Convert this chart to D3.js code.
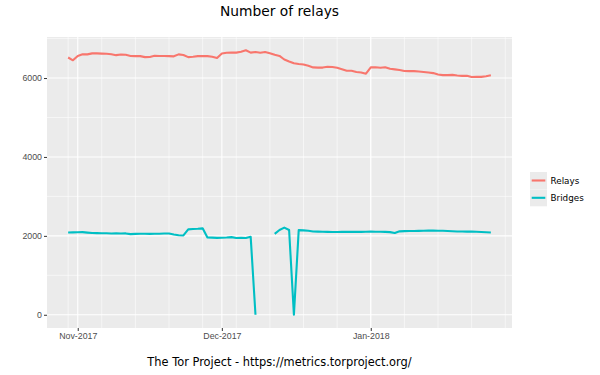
<!DOCTYPE html>
<html>
<head>
<meta charset="utf-8">
<script src="https://cdn.jsdelivr.net/npm/d3@7"></script>
<style>
  body { margin: 0; background: #fff; }
  svg { font-family: "DejaVu Sans", sans-serif; }
</style>
</head>
<body>
<div id="chart"></div>
<script>
// Daily values, 2017-10-30 .. 2018-01-26
const startDate = "2017-10-30";
const relays = [
  6520, 6450, 6560, 6600, 6600, 6625, 6625, 6620, 6615, 6605,
  6580, 6595, 6590, 6560, 6555, 6555, 6530, 6535, 6565, 6560,
  6560, 6555, 6550, 6600, 6585, 6530, 6540, 6555, 6560, 6555,
  6540, 6510, 6620, 6640, 6645, 6645, 6665, 6705, 6645, 6660,
  6640, 6660, 6630, 6590, 6560, 6470, 6420, 6375, 6355, 6345,
  6310, 6270, 6265, 6265, 6285, 6280, 6260, 6225, 6185, 6185,
  6155, 6140, 6110, 6270, 6275, 6260, 6275, 6235, 6220, 6205,
  6180, 6175, 6175, 6165, 6155, 6140, 6125, 6090, 6075, 6075,
  6080, 6065, 6055, 6060, 6025, 6030, 6030, 6045, 6070
];
const bridges = [
  2085, 2088, 2092, 2094, 2082, 2072, 2070, 2068, 2066, 2060,
  2062, 2060, 2062, 2045, 2050, 2055, 2052, 2050, 2052, 2055,
  2058, 2060, 2035, 2015, 2010, 2165, 2175, 2180, 2190, 1960,
  1955, 1950, 1952, 1958, 1968, 1945, 1948, 1945, 1975, 0,
  null, null, null, 2050, 2150, 2210, 2150, 0, 2145, 2140,
  2130, 2112, 2108, 2105, 2102, 2098, 2096, 2100, 2102, 2100,
  2104, 2102, 2106, 2108, 2106, 2104, 2100, 2095, 2072, 2115,
  2120, 2122, 2124, 2126, 2128, 2132, 2134, 2130, 2128, 2125,
  2118, 2112, 2110, 2108, 2112, 2105, 2098, 2092, 2085
];
const seriesNames = ["Relays", "Bridges"];
const seriesColors = ["#F8766D", "#00BFC4"];
const yTicks = [0, 2000, 4000, 6000];
const yMinor = [1000, 3000, 5000, 7000];
const monthTicks = ["2017-11-01", "2017-12-01", "2018-01-01"];

const width = 600, height = 375;
const panel = { left: 47, right: 512, top: 37, bottom: 328 };

const parse = d3.utcParse("%Y-%m-%d");
const t0 = parse(startDate);
const dates = relays.map((_, i) => d3.utcDay.offset(t0, i));

const svg = d3.select("#chart").append("svg")
  .attr("width", width)
  .attr("height", height);

// Scales with ggplot-like 5% expansion
const xExt = d3.extent(dates);
const xPad = (xExt[1] - xExt[0]) * 0.05;
const x = d3.scaleUtc()
  .domain([new Date(+xExt[0] - xPad), new Date(+xExt[1] + xPad)])
  .range([panel.left, panel.right]);

const yMax = d3.max(relays);
const yPad = yMax * 0.05;
const y = d3.scaleLinear()
  .domain([-yPad, yMax + yPad])
  .range([panel.bottom, panel.top]);

// Panel background
svg.append("rect")
  .attr("x", panel.left)
  .attr("y", panel.top)
  .attr("width", panel.right - panel.left)
  .attr("height", panel.bottom - panel.top)
  .attr("fill", "#EBEBEB");

const grid = svg.append("g");

// Minor grid: weekly (Mondays) and half-way on y
const weeks = d3.utcMonday.range(x.domain()[0], x.domain()[1]);
grid.selectAll(".vminor").data(weeks).enter().append("line")
  .attr("x1", d => x(d)).attr("x2", d => x(d))
  .attr("y1", panel.top).attr("y2", panel.bottom)
  .attr("stroke", "#fff").attr("stroke-width", 0.55);

grid.selectAll(".hminor").data(yMinor.filter(v => y(v) >= panel.top)).enter().append("line")
  .attr("x1", panel.left).attr("x2", panel.right)
  .attr("y1", d => y(d)).attr("y2", d => y(d))
  .attr("stroke", "#fff").attr("stroke-width", 0.55);

// Major grid
grid.selectAll(".vmajor").data(monthTicks.map(parse)).enter().append("line")
  .attr("x1", d => x(d)).attr("x2", d => x(d))
  .attr("y1", panel.top).attr("y2", panel.bottom)
  .attr("stroke", "#fff").attr("stroke-width", 1.1);

grid.selectAll(".hmajor").data(yTicks).enter().append("line")
  .attr("x1", panel.left).attr("x2", panel.right)
  .attr("y1", d => y(d)).attr("y2", d => y(d))
  .attr("stroke", "#fff").attr("stroke-width", 1.1);

// Axes
const xAxis = d3.axisBottom(x)
  .tickValues(monthTicks.map(parse))
  .tickFormat(d3.utcFormat("%b-%Y"))
  .tickSize(3)
  .tickPadding(2);

const yAxis = d3.axisLeft(y)
  .tickValues(yTicks)
  .tickFormat(d3.format("d"))
  .tickSize(3)
  .tickPadding(2);

const gx = svg.append("g")
  .attr("transform", `translate(0,${panel.bottom})`)
  .call(xAxis);
const gy = svg.append("g")
  .attr("transform", `translate(${panel.left},0)`)
  .call(yAxis);

[gx, gy].forEach(g => {
  g.select(".domain").remove();
  g.selectAll(".tick line").attr("stroke", "#333").attr("stroke-width", 1);
  g.selectAll(".tick text")
    .attr("fill", "#4D4D4D")
    .style("font-size", "8.8px");
});

// Lines
const line = d3.line()
  .defined(d => d.v != null)
  .x(d => x(d.date))
  .y(d => y(d.v));

const series = [relays, bridges];
series.forEach((vals, k) => {
  svg.append("path")
    .datum(vals.map((v, i) => ({ date: dates[i], v: v })))
    .attr("fill", "none")
    .attr("stroke", seriesColors[k])
    .attr("stroke-width", 2.1)
    .attr("stroke-linejoin", "round")
    .attr("d", line);
});

// Title
svg.append("text")
  .attr("x", (panel.left + panel.right) / 2)
  .attr("y", 16)
  .attr("text-anchor", "middle")
  .style("font-size", "13.8px")
  .attr("fill", "#000")
  .text("Number of relays");

// Legend
const legend = svg.append("g")
  .attr("transform", "translate(530,172)");

seriesNames.forEach((name, k) => {
  const item = legend.append("g")
    .attr("transform", `translate(0,${k * 17.3})`);
  item.append("rect")
    .attr("width", 17).attr("height", 17)
    .attr("fill", "#EBEBEB");
  item.append("line")
    .attr("x1", 1.7).attr("x2", 15.3)
    .attr("y1", 8.5).attr("y2", 8.5)
    .attr("stroke", seriesColors[k])
    .attr("stroke-width", 2.1);
  item.append("text")
    .attr("x", 20.5)
    .attr("y", 11.7)
    .style("font-size", "8.8px")
    .attr("fill", "#000")
    .text(name);
});

// Caption
svg.append("text")
  .attr("x", (panel.left + panel.right) / 2)
  .attr("y", 366)
  .attr("text-anchor", "middle")
  .style("font-size", "11.4px")
  .attr("fill", "#000")
  .text("The Tor Project - https://metrics.torproject.org/");
</script>
</body>
</html>
